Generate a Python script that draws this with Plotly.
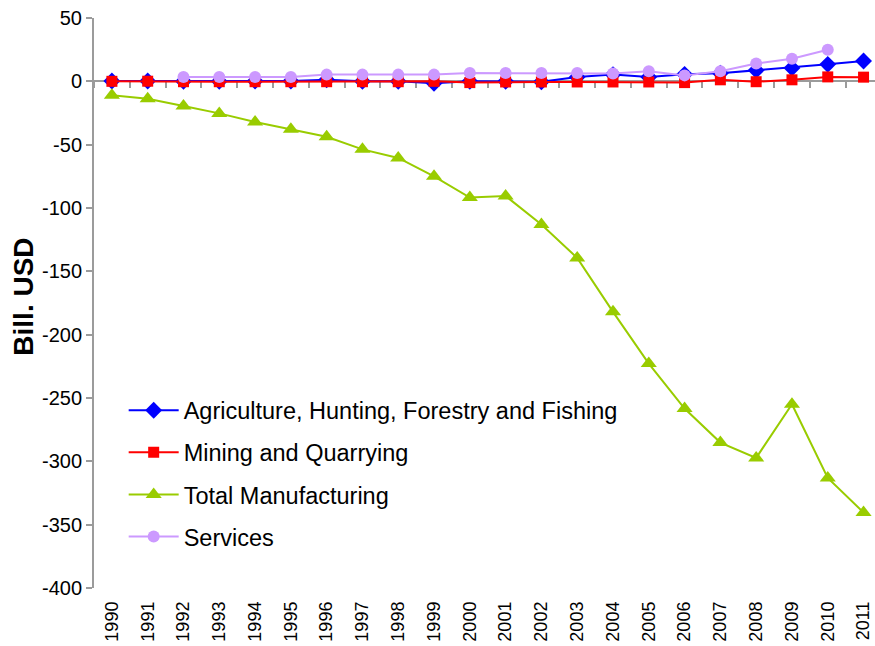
import plotly.graph_objects as go

years = [str(y) for y in range(1990, 2012)]

agriculture = [0.3, 0.3, 0.0, 0.0, 0.2, 0.3, 1.2, 0.0, 0.0, -1.5, 0.0, 0.0,
               -0.3, 3.4, 5.3, 3.4, 5.5, 6.4, 8.7, 10.5, 13.4, 16.0]
mining = [0.0, 0.1, -0.3, -0.3, -0.3, -0.3, -0.3, -0.3, -0.3, 0.0, -1.0, -0.5,
          -0.5, -0.5, -0.5, -0.5, -1.0, 1.2, -0.3, 1.2, 3.5, 3.3]
manufacturing = [-11.0, -13.7, -19.5, -25.3, -32.1, -37.9, -43.7, -53.7, -60.5, -75.0,
                 -91.8, -90.5, -113.1, -139.4, -182.0, -222.8, -258.3, -285.2, -297.3,
                 -254.9, -313.1, -340.4]
services = [None, None, 3.4, 3.4, 3.4, 3.4, 5.3, 5.3, 5.3, 5.3, 6.6, 6.6,
            6.6, 6.6, 6.1, 7.9, 4.7, 7.9, 14.0, 17.9, 25.0, None]

y_ticks = list(range(-400, 51, 50))
y_tick_labels = [str(v) for v in y_ticks]

FONT = "Liberation Sans, Arial, sans-serif"
AXIS_GREY = "#9B9B9B"

series = [
    ("Agriculture, Hunting, Forestry and Fishing", agriculture, "#0000FF", "diamond", 13),
    ("Mining and Quarrying", mining, "#FF0000", "square", 11),
    ("Total Manufacturing", manufacturing, "#99CC00", "triangle-up", 14),
    ("Services", services, "#CC99FF", "circle", 12),
]

fig = go.Figure()
for i, (name, vals, color, symbol, size) in enumerate(series):
    fig.add_trace(go.Scatter(
        x=years, y=vals, name=name, mode="lines+markers",
        line=dict(color=color, width=2),
        marker=dict(color=color, symbol=symbol, size=size, line=dict(width=0)),
        legendgroup=f"g{i}", connectgaps=False,
    ))

# invisible trace carrying the bottom year labels
fig.add_trace(go.Scatter(x=years, y=[None] * len(years), xaxis="x2",
                         showlegend=False, hoverinfo="skip", mode="markers"))

x_range = [-0.5, 21.32]

fig.update_layout(
    width=875, height=646,
    margin=dict(l=94, r=0, t=18, b=58),
    paper_bgcolor="white", plot_bgcolor="white",
    font=dict(family=FONT, color="#000000"),
    showlegend=True,
    legend=dict(
        x=0.038, y=0.35, xanchor="left", yanchor="top",
        font=dict(family=FONT, size=23.5, color="#000000"),
        bgcolor="rgba(0,0,0,0)", tracegroupgap=8.5, itemwidth=50,
    ),
    xaxis=dict(
        type="category", categoryarray=years, range=x_range,
        anchor="free", position=400 / 450,
        showline=True, linecolor=AXIS_GREY, linewidth=2,
        ticks="outside", ticklen=6, tickcolor=AXIS_GREY, tickwidth=2,
        tickson="boundaries", showticklabels=False,
        showgrid=False, zeroline=False, layer="below traces",
    ),
    xaxis2=dict(
        type="category", categoryarray=years, range=x_range,
        overlaying="x", anchor="y", side="bottom",
        showline=False, ticks="", showgrid=False, zeroline=False,
        tickangle=-90, tickfont=dict(family=FONT, size=18, color="#000000"),
        ticklabelstandoff=9,
    ),
    yaxis=dict(
        range=[-400, 50], tickvals=y_ticks, ticktext=y_tick_labels,
        showline=True, linecolor=AXIS_GREY, linewidth=2,
        ticks="outside", ticklen=6, tickcolor=AXIS_GREY, tickwidth=2,
        showgrid=False, zeroline=False,
        tickfont=dict(family=FONT, size=20, color="#000000"),
    ),
    annotations=[dict(
        text="<b>Bill. USD</b>", textangle=-90,
        xref="paper", x=0, xanchor="center", xshift=-70,
        yref="y", y=-170, yanchor="middle", showarrow=False,
        font=dict(family=FONT, size=28, color="#000000"),
    )],
)

fig.write_html("out.html")
